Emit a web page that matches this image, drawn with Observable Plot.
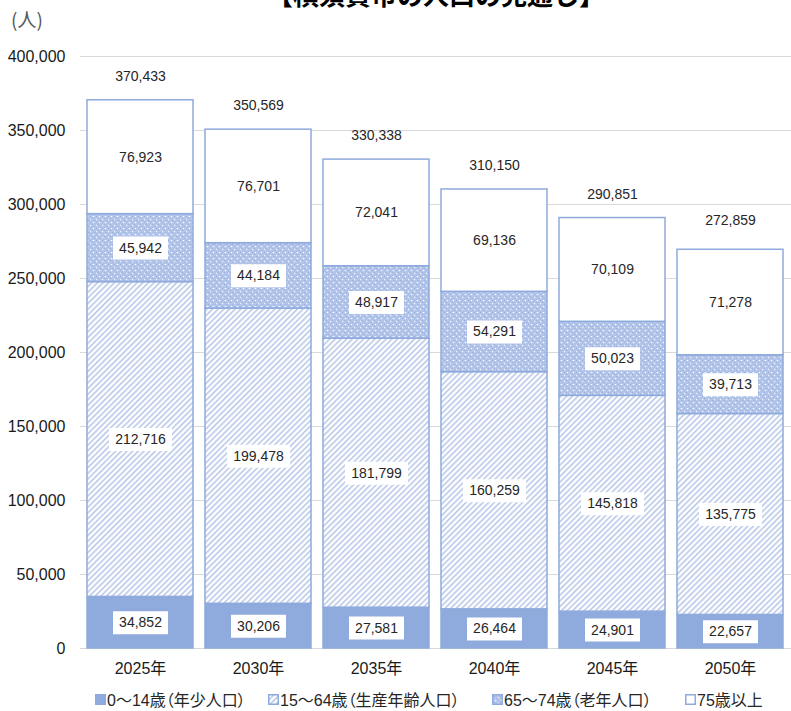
<!DOCTYPE html>
<html>
<head>
<meta charset="utf-8">
<script src="https://cdn.jsdelivr.net/npm/d3@7"></script>
<script src="https://cdn.jsdelivr.net/npm/@observablehq/plot@0.6"></script>
<style>
  html, body { margin: 0; padding: 0; background: #fff; }
  #wrap { position: relative; width: 791px; height: 711px; overflow: hidden; font-family: "Liberation Sans", "Noto Sans CJK JP", sans-serif; }
  #title { position: absolute; left: 267px; top: -19px; font-family: "Noto Sans CJK JP", sans-serif; font-weight: bold; font-size: 26px; line-height: 1; color: #000; white-space: nowrap; }
  #unit { position: absolute; left: 11px; top: 8px; font-family: "Noto Sans CJK JP", sans-serif; font-size: 19px; line-height: 1.2; color: #595959; }
  #chart { position: absolute; left: 0; top: 0; }
  #legend { position: absolute; left: 0; top: 687px; width: 791px; height: 22px; font-size: 16px; color: #262626; white-space: nowrap; font-feature-settings: "palt"; }
  .item { position: absolute; top: 0; display: flex; align-items: center; }
  .item svg { margin-right: 1px; }
</style>
</head>
<body>
<div id="wrap">
  <svg width="0" height="0" style="position:absolute">
    <defs>
      <pattern id="hatch" width="4" height="4" patternUnits="userSpaceOnUse" patternTransform="rotate(45)">
        <rect width="4" height="4" fill="#ffffff"></rect>
        <line x1="0.8" y1="0" x2="0.8" y2="4" stroke="#a9bce3" stroke-width="1.3"></line>
      </pattern>
      <pattern id="dots" width="6" height="6" patternUnits="userSpaceOnUse">
        <rect width="6" height="6" fill="#b3c4e9"></rect>
        <rect x="0" y="0" width="1" height="1" fill="#98afdf"></rect>
        <rect x="2" y="2" width="1" height="1" fill="#98afdf"></rect>
        <rect x="4" y="4" width="1" height="1" fill="#98afdf"></rect>
        <circle cx="3.5" cy="0.5" r="0.8" fill="#ffffff"></circle>
        <circle cx="0.5" cy="3.5" r="0.8" fill="#eef2fb"></circle>
      </pattern>
    </defs>
  </svg>
  <div id="chart"></div>
  <div id="title">【横須賀市の人口の見通し】</div>
  <div id="unit">(人)</div>
  <div id="legend"></div>
</div>
<script>
// ---- data ----
const years = ["2025年", "2030年", "2035年", "2040年", "2045年", "2050年"];
const seriesNames = ["0～14歳（年少人口）", "15～64歳（生産年齢人口）", "65～74歳（老年人口）", "75歳以上"];
const age0_14 = [34852, 30206, 27581, 26464, 24901, 22657];
const age15_64 = [212716, 199478, 181799, 160259, 145818, 135775];
const age65_74 = [45942, 44184, 48917, 54291, 50023, 39713];
const age75plus = [76923, 76701, 72041, 69136, 70109, 71278];
const totals = [370433, 350569, 330338, 310150, 290851, 272859];
const yTicks = [0, 50000, 100000, 150000, 200000, 250000, 300000, 350000, 400000];

// ---- build table ----
const seriesValues = [age0_14, age15_64, age65_74, age75plus];
const rows = [];
years.forEach((yr, i) => {
  let base = 0;
  seriesValues.forEach((vals, s) => {
    const v = vals[i];
    rows.push({year: yr, series: seriesNames[s], value: v, y1: base, y2: base + v, mid: base + v / 2});
    base += v;
  });
});
const totalRows = years.map((yr, i) => ({year: yr, total: totals[i]}));

const fills = ["#8faadc", "url(#hatch)", "url(#dots)", "#ffffff"];
const fmt = d3.format(",");
const boxSym = w => ({draw(ctx) { ctx.rect(-w / 2, -11.5, w, 23); }});

const font = "'Liberation Sans', 'Noto Sans CJK JP', sans-serif";

const chart = Plot.plot({
  width: 791,
  height: 711,
  marginTop: 56,
  marginBottom: 63,
  marginLeft: 80,
  marginRight: 0,
  style: {fontFamily: font, fontSize: "16px", background: "transparent", color: "#262626"},
  x: {domain: years, paddingInner: 0.1, paddingOuter: 0.05, label: null},
  y: {domain: [0, 400000], label: null},
  color: {domain: seriesNames, range: fills},
  marks: [
    Plot.ruleY(yTicks, {stroke: "#d9d9d9", strokeWidth: 1.2}),
    Plot.barY(rows, {x: "year", y1: "y1", y2: "y2", fill: "series", stroke: "#8faadc", strokeWidth: 1.5}),
    Plot.axisX({tickSize: 0, tickPadding: 14, fontSize: 16, fill: "#1a1a1a"}),
    Plot.axisY({ticks: yTicks, tickSize: 0, tickPadding: 15, tickFormat: fmt, fontSize: 16, fill: "#1a1a1a"}),
    Plot.dot(rows.filter(d => d.value < 100000), {x: "year", y: "mid", symbol: boxSym(55), fill: "#ffffff", stroke: null, r: 10}),
    Plot.dot(rows.filter(d => d.value >= 100000), {x: "year", y: "mid", symbol: boxSym(63), fill: "#ffffff", stroke: null, r: 10}),
    Plot.text(rows, {x: "year", y: "mid", text: d => fmt(d.value), fontSize: 14, fill: "#262626"}),
    Plot.text(totalRows, {x: "year", y: "total", text: d => fmt(d.total), dy: -24, fontSize: 14, fill: "#262626"})
  ]
});
document.getElementById("chart").appendChild(chart);

// ---- legend ----
const legendLeft = [95, 268, 492, 685];
const legend = document.getElementById("legend");
seriesNames.forEach((name, i) => {
  const item = document.createElement("div");
  item.className = "item";
  item.style.left = legendLeft[i] + "px";
  item.innerHTML = `<svg width="11" height="11"><rect x="0.75" y="0.75" width="9.5" height="9.5" fill="${fills[i]}" stroke="#8faadc" stroke-width="1.5"></rect></svg><span>${name}</span>`;
  legend.appendChild(item);
});
</script>
</body>
</html>
